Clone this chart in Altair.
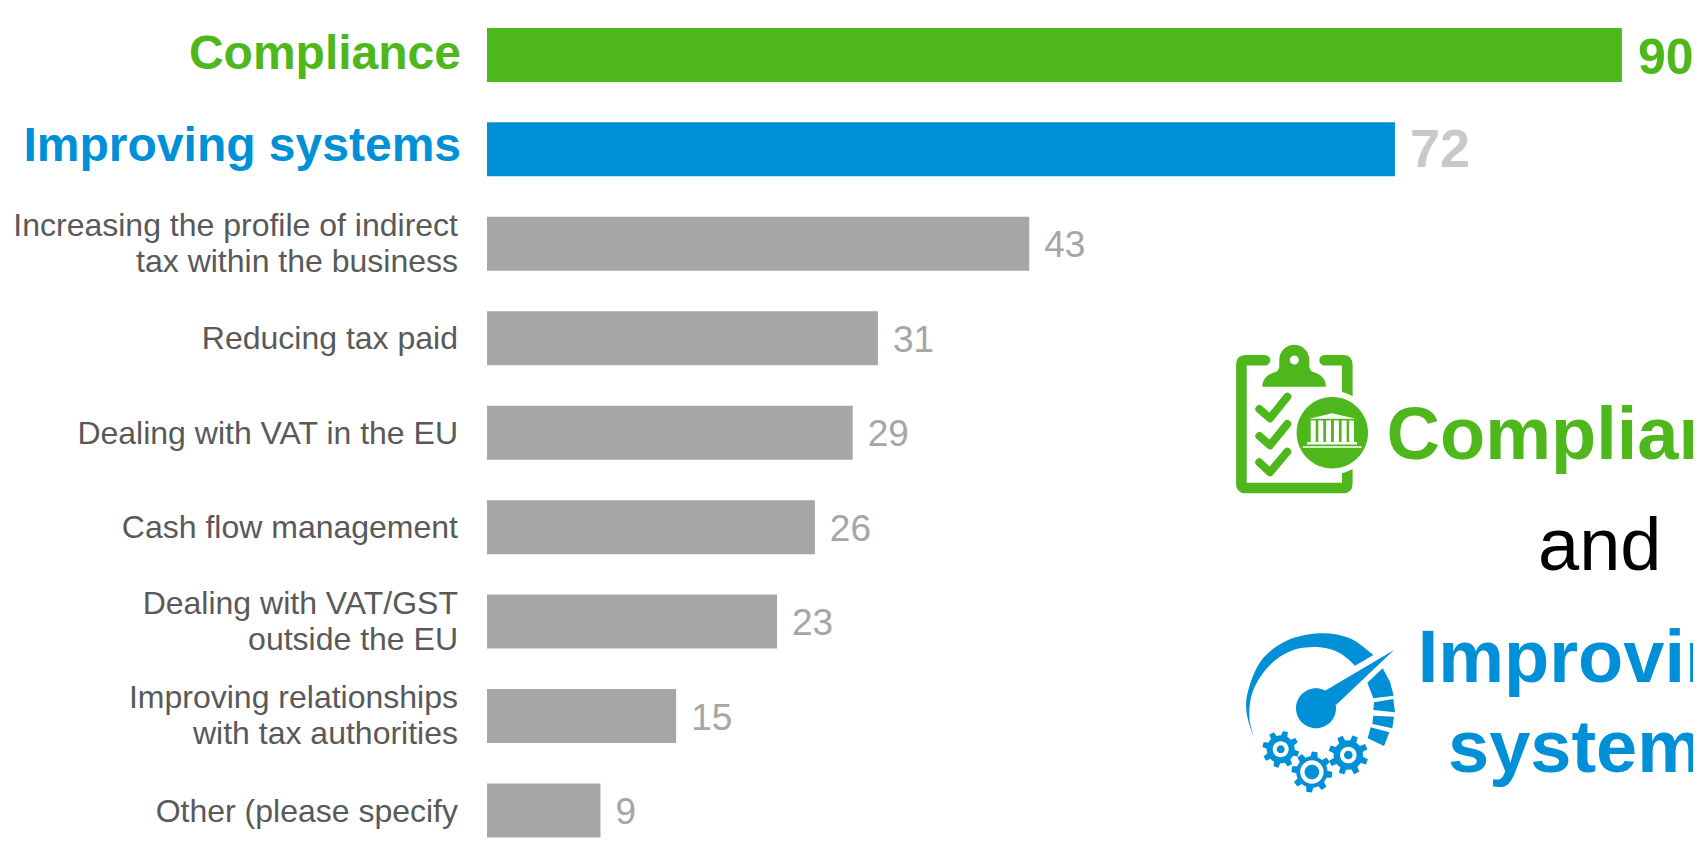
import math
import altair as alt
import pandas as pd

# ---- chart values -------------------------------------------------------
categories = [
    "Compliance",
    "Improving systems",
    "Increasing the profile of indirect|tax within the business",
    "Reducing tax paid",
    "Dealing with VAT in the EU",
    "Cash flow management",
    "Dealing with VAT/GST|outside the EU",
    "Improving relationships|with tax authorities",
    "Other (please specify",
]
values = [90, 72, 43, 31, 29, 26, 23, 15, 9]
groups = ["compliance", "systems"] + ["other"] * 7

GREEN = "#4EB71B"
BLUE = "#0090D7"
GREY = "#A6A6A6"
FONT = "Liberation Sans"

df = pd.DataFrame({"category": categories, "value": values, "group": groups})

PLOT_X, PLOT_Y = 487, 8
PLOT_W, PLOT_H = 1206, 833
UNIT = 12.61  # px per value unit

x_scale = alt.Scale(domain=[0, PLOT_W / UNIT], nice=False, zero=False)
y_scale = alt.Scale(type="band", domain=categories, range=[0, 849.4],
                    paddingInner=0.4283, paddingOuter=0.2107)
X = alt.X("value:Q", scale=x_scale, axis=None, stack=None)
Y_PLAIN = alt.Y("category:N", scale=y_scale, axis=None)
Y = alt.Y(
    "category:N",
    scale=y_scale,
    axis=alt.Axis(labels=False, ticks=False, title=None, grid=False,
                  domainColor="#D9D9D9", domainWidth=1.5),
)

base = alt.Chart(df)

bars = base.mark_bar().encode(
    x=X,
    y=Y,
    color=alt.Color(
        "group:N",
        scale=alt.Scale(domain=["compliance", "systems", "other"], range=[GREEN, BLUE, GREY]),
        legend=None,
    ),
)


def cat_label(test, colour, size, weight, dx, dy):
    return (
        base.transform_filter(test)
        .mark_text(align="right", baseline="middle", font=FONT, fontSize=size, fontWeight=weight,
                   color=colour, dx=dx, dy=dy, lineBreak="|", lineHeight=36)
        .encode(x=alt.value(0), y=Y_PLAIN, text="category:N")
    )


def val_label(group, colour, size, weight, dx, dy=0):
    return (
        base.transform_filter(alt.datum.group == group)
        .mark_text(align="left", baseline="middle", font=FONT, fontSize=size, fontWeight=weight,
                   color=colour, dx=dx, dy=dy)
        .encode(x=alt.X("value:Q", scale=x_scale, axis=None), y=Y_PLAIN, text="value:Q")
    )


layers = [
    bars,
    cat_label("datum.group === 'compliance'", GREEN, 48, "bold", -26, 0),
    cat_label("datum.group === 'systems'", BLUE, 48, "bold", -26, -2),
    cat_label("datum.group === 'other' && indexof(datum.category, '|') < 0", "#595959", 32, "normal", -29, 1),
    cat_label("datum.group === 'other' && indexof(datum.category, '|') >= 0", "#595959", 32, "normal", -29, -18),
    val_label("compliance", GREEN, 50, "bold", 16, 4),
    val_label("systems", "#C9C9C9", 54, "bold", 15, 2),
    val_label("other", GREY, 37, "normal", 15, 2.5),
]

# ---- headline text on the right -----------------------------------------
one = pd.DataFrame({"a": [0]})


def headline(text, page_x, page_base, colour, weight):
    return (
        alt.Chart(one)
        .mark_text(text=text, align="left", baseline="alphabetic", font=FONT,
                   fontSize=74, fontWeight=weight, color=colour)
        .encode(x=alt.value(page_x - PLOT_X), y=alt.value(page_base - PLOT_Y))
    )


layers += [
    headline("Compliance", 1386.5, 458.7, GREEN, "bold"),
    headline("and", 1538, 570, "#000000", "normal"),
    headline("Improving", 1417.7, 681.7, BLUE, "bold"),
    headline("systems", 1448, 771.7, BLUE, "bold"),
]


# ---- icons (paths in page pixels; a symbol of size 4 draws at scale 1) ---
def shape(path, colour):
    return (
        alt.Chart(one)
        .mark_point(shape=path, size=4, filled=True, color=colour, opacity=1, strokeWidth=0)
        .encode(x=alt.value(-PLOT_X), y=alt.value(-PLOT_Y))
    )


def line_shape(path, colour, width):
    return (
        alt.Chart(one)
        .mark_point(shape=path, size=4, filled=False, color=colour, opacity=1,
                    strokeWidth=width, strokeCap="round", strokeJoin="round")
        .encode(x=alt.value(-PLOT_X), y=alt.value(-PLOT_Y))
    )


def circle(cx, cy, r):
    return f"M{cx-r},{cy}A{r},{r} 0 1 1 {cx+r},{cy}A{r},{r} 0 1 1 {cx-r},{cy}Z"


def rect(x0, y0, x1, y1):
    return f"M{x0},{y0}L{x1},{y0}L{x1},{y1}L{x0},{y1}Z"


def polygon(pts):
    return "M" + "L".join(f"{x:.2f},{y:.2f}" for x, y in pts) + "Z"


def smooth(pts, move=True):
    s = (f"M{pts[0][0]:.2f},{pts[0][1]:.2f}" if move else f"L{pts[0][0]:.2f},{pts[0][1]:.2f}")
    for i in range(len(pts) - 1):
        p0 = pts[max(i - 1, 0)]
        p1, p2 = pts[i], pts[i + 1]
        p3 = pts[min(i + 2, len(pts) - 1)]
        c1 = (p1[0] + (p2[0] - p0[0]) / 6, p1[1] + (p2[1] - p0[1]) / 6)
        c2 = (p2[0] - (p3[0] - p1[0]) / 6, p2[1] - (p3[1] - p1[1]) / 6)
        s += f"C{c1[0]:.2f},{c1[1]:.2f} {c2[0]:.2f},{c2[1]:.2f} {p2[0]:.2f},{p2[1]:.2f}"
    return s


def gear(cx, cy, r_out, r_body, rot):
    pts = []
    for i in range(8):
        a = rot + i * 45
        for r, d in ((r_body, -13), (r_out, -8), (r_out, 8), (r_body, 13), (r_body, 22.5)):
            t = math.radians(a + d)
            pts.append((cx + r * math.cos(t), cy + r * math.sin(t)))
    return polygon(pts)


def gz(pts):
    """crop-of-gauge coordinates (3x, origin 1230,620) to page pixels"""
    return [(1230 + x / 3, 620 + y / 3) for x, y in pts]


# clipboard
frame = (
    "M1265,360.3L1245,360.3Q1241.4,360.3 1241.4,364L1241.4,484Q1241.4,488 1245,488"
    "L1343.5,488Q1347.3,488 1347.3,484L1347.3,364Q1347.3,360.3 1343.5,360.3L1324.6,360.3"
)
clip = (
    "M1262.3,386.7C1262.3,378 1269,374 1274,372.5C1278,371.3 1279.3,369 1279.3,365"
    "L1279.3,360A15,15.3 0 0 1 1309.3,360L1309.3,365C1309.3,369 1310.6,371.3 1314.6,372.5"
    "C1319.6,374 1326,378 1326,386.7Z"
)
checks = "".join(
    f"M1259.3,{y0}L1270,{y1}L1287.3,{y2}"
    for y0, y1, y2 in ((409, 418.3, 396.7), (436, 445.3, 424), (462.3, 472.3, 451.7))
)
bank = (
    polygon([(1332.3, 413.2), (1355.7, 418.8), (1309, 418.8)])
    + "".join(rect(x, 420.5, x + 5, 442) for x in (1310.7, 1318.3, 1326, 1333.9, 1341.6, 1349))
    + rect(1307, 442, 1357, 444.6)
    + rect(1302.7, 446.3, 1361.7, 447.7)
)

layers += [
    line_shape(frame, GREEN, 10.6),
    shape(clip, GREEN),
    shape(circle(1294.3, 360, 4.5), "#FFFFFF"),
    line_shape(checks, GREEN, 8),
    shape(circle(1332.3, 432.7, 41.6), "#FFFFFF"),
    shape(circle(1332.3, 432.7, 35.7), GREEN),
    shape(bank, "#FFFFFF"),
]

# gauge
crescent = (
    smooth(gz([(75, 362), (50, 280), (55, 210), (95, 120), (170, 62), (270, 40), (360, 55), (430, 105)]))
    + smooth(gz([(375, 137), (330, 100), (270, 82), (190, 90), (120, 135), (70, 210), (58, 290), (75, 362)]), move=False)
    + "Z"
)
needle = polygon(gz([(492, 90), (285, 212), (318, 255)]))
ticks = "".join(
    polygon(gz(p))
    for p in (
        [(458, 145), (412, 188), (430, 235), (491, 227), (480, 185)],
        [(432, 247), (490, 237), (495, 277), (430, 270)],
        [(430, 287), (492, 290), (487, 325), (427, 312)],
        [(422, 322), (478, 337), (462, 378), (413, 355)],
    )
)
gears = [
    (1280.7, 749.3, 18.5, 14, 15, 8, 4),
    (1311.9, 772, 20.5, 15.7, 8, 11.7, 7.3),
    (1348.3, 755, 20, 14.7, 20, 8.3, 4.3),
]

layers += [
    shape(crescent, BLUE),
    shape(circle(1316, 708.3, 20), BLUE),
    shape(needle, BLUE),
    shape(ticks, BLUE),
]
for cx, cy, ro, rb, rot, rw, ri in gears:
    layers += [
        shape(gear(cx, cy, ro, rb, rot), BLUE),
        shape(circle(cx, cy, rw), "#FFFFFF"),
        shape(circle(cx, cy, ri), BLUE),
    ]

chart = (
    alt.layer(*layers)
    .properties(
        width=PLOT_W,
        height=PLOT_H,
        padding={"left": PLOT_X - 8, "top": 0, "right": 0, "bottom": 0},
        autosize=alt.AutoSizeParams(type="none"),
    )
    .configure_view(stroke=None)
)

chart.save("out.html", embed_options={"renderer": "svg", "actions": False})
